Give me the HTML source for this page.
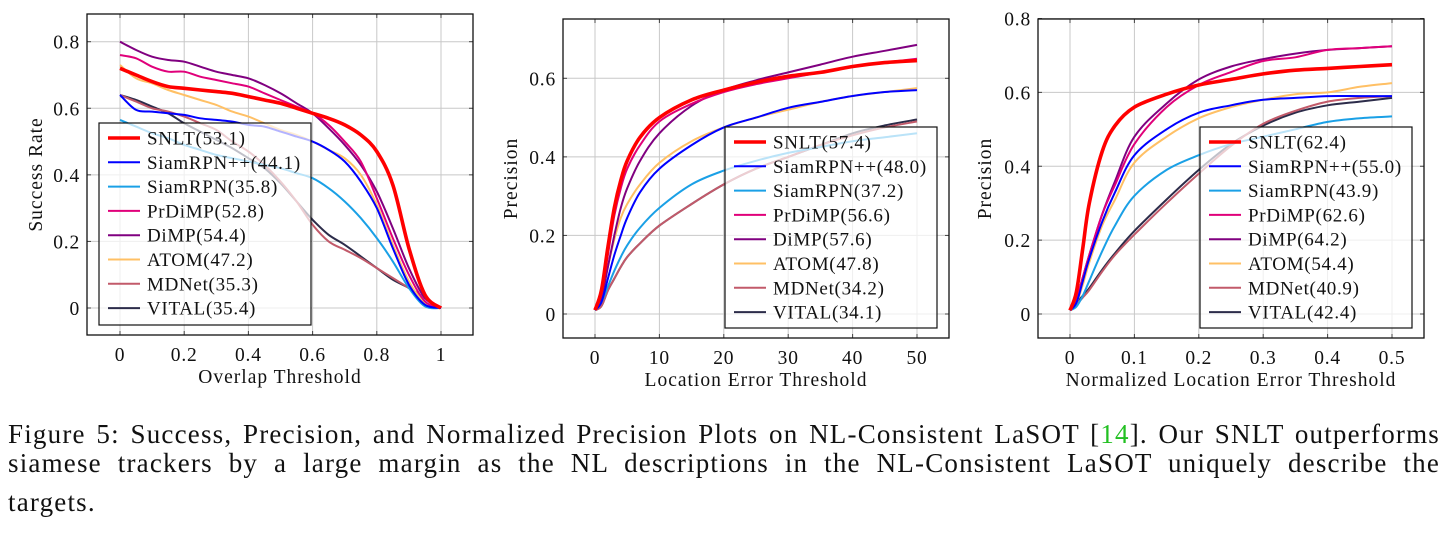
<!DOCTYPE html>
<html><head><meta charset="utf-8">
<style>
body{margin:0;background:#fff;width:1453px;height:539px;overflow:hidden;font-family:"Liberation Serif",serif;}
svg{position:absolute;left:0;top:0;}
svg text{font-family:"Liberation Serif",serif;fill:#111;}
.cap{position:absolute;left:8px;width:1432px;font-size:27px;letter-spacing:1.2px;color:#111;text-align:justify;text-align-last:justify;white-space:nowrap;}
</style></head>
<body>
<svg id="fig" width="1453" height="400"></svg>
<div class="cap" style="top:419px">Figure 5: Success, Precision, and Normalized Precision Plots on NL-Consistent LaSOT [<span style="color:#22c022">14</span>]. Our SNLT outperforms</div>
<div class="cap" style="top:448px">siamese trackers by a large margin as the NL descriptions in the NL-Consistent LaSOT uniquely describe the</div>
<div class="cap" style="top:487px;text-align-last:left">targets.</div>
<script>
const names=["SNLT","SiamRPN++","SiamRPN","PrDiMP","DiMP","ATOM","MDNet","VITAL"];
const colors=["#ff0000","#0000ff","#1aa0e6","#e0007a","#800080","#ffc065","#c25a6a","#2c2c4a"];
const widths=[3.6,2,2,2,2,2,2,2];
// Plot 1: success
const x1=[0,0.05,0.1,0.15,0.2,0.25,0.3,0.35,0.4,0.45,0.5,0.55,0.6,0.65,0.7,0.75,0.8,0.85,0.9,0.95,1];
const s1_SNLT=[0.72,0.70,0.68,0.665,0.66,0.655,0.65,0.645,0.635,0.625,0.615,0.60,0.585,0.57,0.55,0.52,0.47,0.37,0.18,0.04,0.0];
const s1_SiamRPNpp=[0.64,0.595,0.59,0.585,0.58,0.57,0.565,0.56,0.55,0.545,0.53,0.515,0.50,0.475,0.44,0.38,0.30,0.18,0.07,0.01,0];
const s1_SiamRPN=[0.565,0.545,0.525,0.51,0.49,0.475,0.46,0.45,0.44,0.43,0.42,0.405,0.39,0.36,0.32,0.27,0.21,0.14,0.06,0.005,0];
const s1_PrDiMP=[0.76,0.75,0.725,0.71,0.71,0.695,0.685,0.675,0.665,0.645,0.625,0.605,0.585,0.55,0.50,0.44,0.33,0.21,0.10,0.02,0];
const s1_DiMP=[0.80,0.775,0.755,0.745,0.74,0.725,0.71,0.70,0.69,0.67,0.645,0.615,0.585,0.54,0.49,0.43,0.35,0.24,0.12,0.03,0];
const s1_ATOM=[0.73,0.69,0.675,0.655,0.64,0.625,0.61,0.59,0.575,0.555,0.535,0.52,0.50,0.475,0.45,0.40,0.31,0.19,0.08,0.015,0];
const s1_MDNet=[0.64,0.62,0.60,0.59,0.575,0.555,0.535,0.50,0.47,0.43,0.38,0.32,0.25,0.20,0.175,0.15,0.12,0.09,0.06,0.03,0];
const s1_VITAL=[0.64,0.625,0.605,0.585,0.555,0.53,0.505,0.48,0.45,0.42,0.375,0.32,0.265,0.22,0.19,0.155,0.12,0.085,0.06,0.03,0];
const scores1=["53.1","44.1","35.8","52.8","54.4","47.2","35.3","35.4"];
const xt1=["0","0.2","0.4","0.6","0.8","1"];const xv1=[0,0.2,0.4,0.6,0.8,1];
const yv1=[0,0.2,0.4,0.6,0.8];const yt1=["0","0.2","0.4","0.6","0.8"];
// Plot 2: precision
const x2=[0,1,2,3,4,5,7,10,15,20,25,30,35,40,45,50];
const s2_SNLT=[0.01,0.06,0.17,0.27,0.34,0.39,0.45,0.50,0.545,0.57,0.59,0.605,0.615,0.63,0.64,0.645];
const s2_SiamRPNpp=[0.01,0.03,0.09,0.15,0.20,0.245,0.31,0.37,0.43,0.475,0.50,0.525,0.54,0.555,0.565,0.57];
const s2_SiamRPN=[0.01,0.03,0.07,0.11,0.145,0.175,0.22,0.27,0.33,0.365,0.39,0.41,0.425,0.44,0.45,0.46];
const s2_PrDiMP=[0.01,0.05,0.15,0.25,0.32,0.37,0.43,0.49,0.535,0.565,0.585,0.60,0.615,0.63,0.64,0.65];
const s2_DiMP=[0.01,0.04,0.12,0.20,0.27,0.32,0.39,0.46,0.53,0.57,0.595,0.615,0.635,0.655,0.67,0.685];
const s2_ATOM=[0.01,0.04,0.12,0.19,0.245,0.28,0.33,0.385,0.44,0.475,0.50,0.52,0.54,0.555,0.565,0.575];
const s2_MDNet=[0.01,0.02,0.06,0.09,0.12,0.145,0.18,0.225,0.28,0.33,0.37,0.40,0.43,0.455,0.475,0.49];
const s2_VITAL=[0.01,0.02,0.06,0.09,0.12,0.145,0.18,0.225,0.28,0.33,0.37,0.40,0.43,0.46,0.48,0.495];
const scores2=["57.4","48.0","37.2","56.6","57.6","47.8","34.2","34.1"];
const xt2=["0","10","20","30","40","50"];const xv2=[0,10,20,30,40,50];
const yv2=[0,0.2,0.4,0.6];const yt2=["0","0.2","0.4","0.6"];
// Plot 3: normalized precision
const x3=[0,0.01,0.02,0.03,0.05,0.07,0.1,0.15,0.2,0.25,0.3,0.35,0.4,0.45,0.5];
const s3_SNLT=[0.01,0.06,0.18,0.30,0.44,0.51,0.56,0.595,0.62,0.635,0.65,0.66,0.665,0.67,0.675];
const s3_SiamRPNpp=[0.01,0.03,0.09,0.15,0.25,0.33,0.43,0.50,0.545,0.565,0.58,0.585,0.59,0.59,0.59];
const s3_SiamRPN=[0.01,0.02,0.05,0.09,0.17,0.24,0.32,0.39,0.43,0.46,0.48,0.50,0.52,0.53,0.535];
const s3_PrDiMP=[0.01,0.04,0.10,0.16,0.27,0.35,0.46,0.56,0.62,0.655,0.685,0.695,0.715,0.72,0.725];
const s3_DiMP=[0.01,0.04,0.10,0.16,0.27,0.36,0.48,0.57,0.635,0.67,0.69,0.705,0.715,0.72,0.725];
const s3_ATOM=[0.01,0.03,0.08,0.14,0.24,0.31,0.41,0.48,0.53,0.56,0.58,0.595,0.60,0.615,0.625];
const s3_MDNet=[0.01,0.025,0.045,0.065,0.115,0.16,0.215,0.30,0.38,0.455,0.515,0.55,0.575,0.585,0.59];
const s3_VITAL=[0.01,0.03,0.05,0.07,0.12,0.165,0.225,0.31,0.39,0.46,0.51,0.545,0.565,0.575,0.585];
const scores3=["62.4","55.0","43.9","62.6","64.2","54.4","40.9","42.4"];
const xt3=["0","0.1","0.2","0.3","0.4","0.5"];const xv3=[0,0.1,0.2,0.3,0.4,0.5];
const yv3=[0,0.2,0.4,0.6,0.8];const yt3=["0","0.2","0.4","0.6","0.8"];

const NS="http://www.w3.org/2000/svg";
const svg=document.getElementById('fig');
function mk(tag,attrs,parent){const e=document.createElementNS(NS,tag);for(const k in attrs)e.setAttribute(k,attrs[k]);(parent||svg).appendChild(e);return e;}
function smooth(pts){let d="M"+pts[0][0]+","+pts[0][1];for(let i=0;i<pts.length-1;i++){const p0=pts[i-1]||pts[i],p1=pts[i],p2=pts[i+1],p3=pts[i+2]||p2;
const c1=[p1[0]+(p2[0]-p0[0])/6,p1[1]+(p2[1]-p0[1])/6],c2=[p2[0]-(p3[0]-p1[0])/6,p2[1]-(p3[1]-p1[1])/6];
d+=" C"+c1[0].toFixed(1)+","+c1[1].toFixed(1)+" "+c2[0].toFixed(1)+","+c2[1].toFixed(1)+" "+p2[0].toFixed(1)+","+p2[1].toFixed(1);}return d;}

function plot(cfg){
 const g=mk('g',{});
 
 
 const X=v=>cfg.px0+(v-cfg.x0)/(cfg.x1-cfg.x0)*(cfg.px1-cfg.px0);
 const Y=v=>cfg.py0+(v-cfg.y0)/(cfg.y1-cfg.y0)*(cfg.py1-cfg.py0);
 const [L,T,R,B]=cfg.box;
 cfg.xv.forEach((v,i)=>{
  const l=mk('line',{x1:X(v),x2:X(v),y1:T,y2:B,stroke:"#c8c8c8","stroke-width":1},g);
  
  mk('line',{x1:X(v),x2:X(v),y1:B,y2:B-4,stroke:"#444"},g);mk('line',{x1:X(v),x2:X(v),y1:T,y2:T+4,stroke:"#444"},g);
  const t=mk('text',{x:X(v),y:B+26,"text-anchor":"middle","font-size":19.5,"letter-spacing":0.8},g);t.textContent=cfg.xt[i];
  
 });
 cfg.yv.forEach((v,i)=>{
  const l=mk('line',{x1:L,x2:R,y1:Y(v),y2:Y(v),stroke:"#c8c8c8","stroke-width":1},g);
  
  mk('line',{x1:L,x2:L+4,y1:Y(v),y2:Y(v),stroke:"#444"},g);mk('line',{x1:R,x2:R-4,y1:Y(v),y2:Y(v),stroke:"#444"},g);
  const t=mk('text',{x:L-7,y:Y(v)+7,"text-anchor":"end","font-size":19.5,"letter-spacing":0.8},g);t.textContent=cfg.yt[i];
  
 });
 for(let k=cfg.series.length-1;k>=0;k--){
  const pts=cfg.xs.map((xx,i)=>[X(xx),Y(cfg.series[k][i])]);
  const p=mk('path',{d:smooth(pts),fill:"none",stroke:colors[k],"stroke-width":widths[k],"stroke-linejoin":"round"},g);
  
  
 }
 const bx=mk('rect',{x:L,y:T,width:R-L,height:B-T,fill:"none",stroke:"#111","stroke-width":1.3},g);
 
 const lg=mk('g',{},g);
 
 const [lx,ly,lw,lh]=cfg.legend;
 mk('rect',{x:lx,y:ly,width:lw,height:lh,fill:"#fff","fill-opacity":0.7,stroke:"#111","stroke-width":1.2},lg);
 names.forEach((n,k)=>{
  const yy=ly+15+k*24.3;
  const e=mk('g',{},lg);
  
  mk('line',{x1:lx+9,x2:lx+41,y1:yy,y2:yy,stroke:colors[k],"stroke-width":widths[k]},e);
  const t=mk('text',{x:lx+48,y:yy+6.5,"font-size":19,"letter-spacing":0.7},e);t.textContent=n+"("+cfg.scores[k]+")";
 });
 const xl=mk('text',{x:(L+R)/2,y:B+48,"text-anchor":"middle","font-size":19.5,"letter-spacing":1},g);xl.textContent=cfg.xlabel;
 
 const yc=(T+B)/2;const yl=mk('text',{x:cfg.ylx,y:yc,"text-anchor":"middle","font-size":19.5,"letter-spacing":1,transform:"rotate(-90 "+cfg.ylx+" "+yc+")"},g);yl.textContent=cfg.ylabel;
 
}
plot({name:"success-plot",box:[87,14,473,335],x0:0,x1:1,px0:120,px1:441,y0:0,y1:0.8,py0:308,py1:41.7,
 xs:x1,series:[s1_SNLT,s1_SiamRPNpp,s1_SiamRPN,s1_PrDiMP,s1_DiMP,s1_ATOM,s1_MDNet,s1_VITAL],scores:scores1,
 xv:xv1,xt:xt1,yv:yv1,yt:yt1,legend:[99,123,212,202],xlabel:"Overlap Threshold",ylabel:"Success Rate",ylx:42});
plot({name:"precision-plot",box:[563,19,949,338],x0:0,x1:50,px0:595,px1:917,y0:0,y1:0.6,py0:314,py1:78.3,
 xs:x2,series:[s2_SNLT,s2_SiamRPNpp,s2_SiamRPN,s2_PrDiMP,s2_DiMP,s2_ATOM,s2_MDNet,s2_VITAL],scores:scores2,
 xv:xv2,xt:xt2,yv:yv2,yt:yt2,legend:[725,127,212,201],xlabel:"Location Error Threshold",ylabel:"Precision",ylx:517});
plot({name:"normalized-precision-plot",box:[1038,19,1424,338],x0:0,x1:0.5,px0:1070,px1:1392,y0:0,y1:0.8,py0:314,py1:18.5,
 xs:x3,series:[s3_SNLT,s3_SiamRPNpp,s3_SiamRPN,s3_PrDiMP,s3_DiMP,s3_ATOM,s3_MDNet,s3_VITAL],scores:scores3,
 xv:xv3,xt:xt3,yv:yv3,yt:yt3,legend:[1200,127,212,201],xlabel:"Normalized Location Error Threshold",ylabel:"Precision",ylx:991});
</script>
</body></html>
